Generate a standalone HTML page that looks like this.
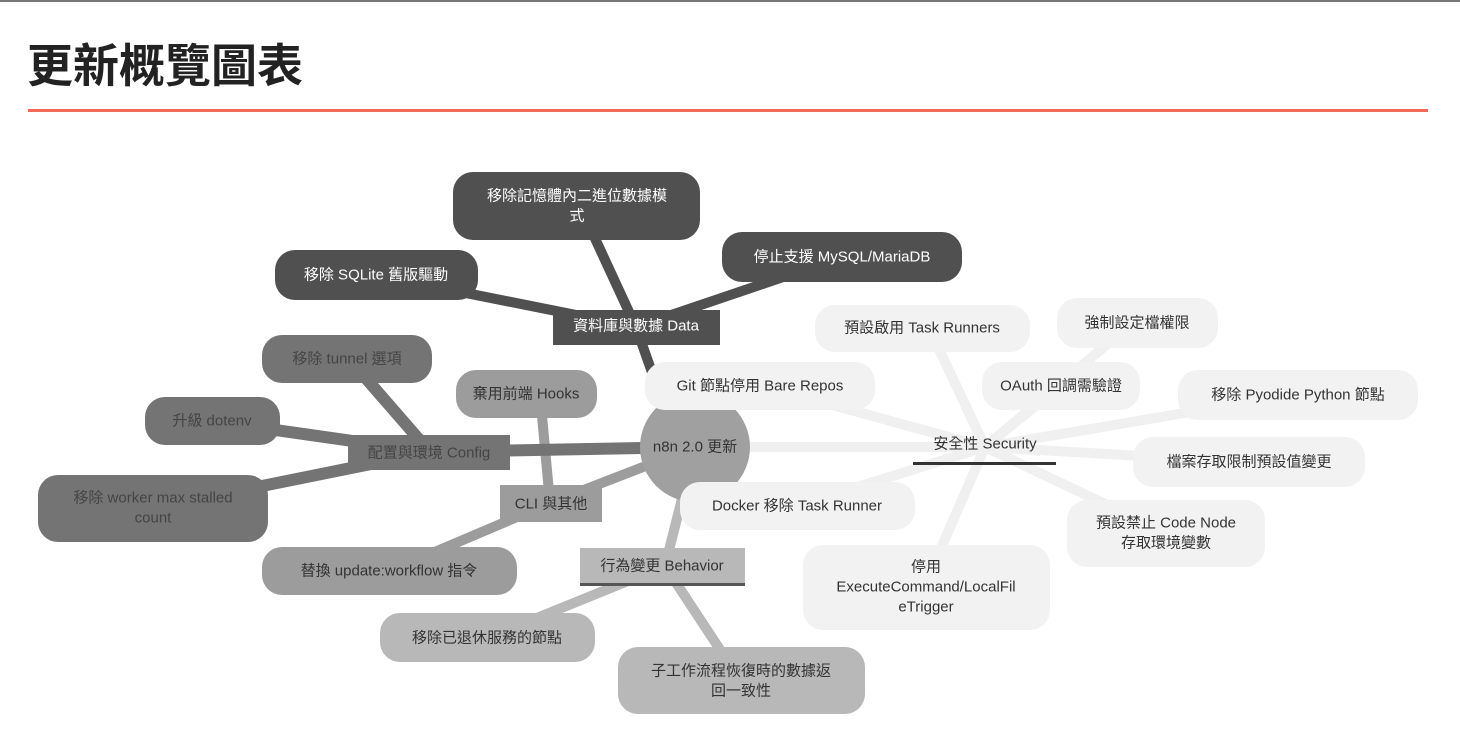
<!DOCTYPE html>
<html><head><meta charset="utf-8"><style>
html,body{margin:0;padding:0;background:#fff;width:1460px;height:752px;overflow:hidden}
svg{display:block}
text{font-family:"Liberation Sans","Noto Sans CJK TC",sans-serif;font-size:15px;text-anchor:middle;dominant-baseline:central}
</style></head><body>
<svg width="1460" height="752" viewBox="0 0 1460 752">
<rect x="0" y="0" width="1460" height="2" fill="#777"/>
<text x="27" y="66" style="font-size:46px;font-weight:bold;text-anchor:start;fill:#222">更新概覽圖表</text>
<rect x="28" y="109" width="1400" height="3" fill="#f06a55"/>

<!-- security lines -->
<g stroke="#f0f0f0" stroke-width="10" stroke-linecap="round">
<line x1="695" y1="447" x2="985" y2="447"/>
<line x1="985" y1="447" x2="760" y2="385"/>
<line x1="985" y1="447" x2="930" y2="330"/>
<line x1="985" y1="447" x2="1130" y2="325"/>
<line x1="985" y1="447" x2="1060" y2="386"/>
<line x1="985" y1="447" x2="1290" y2="395"/>
<line x1="985" y1="447" x2="1245" y2="462"/>
<line x1="985" y1="447" x2="1160" y2="530"/>
<line x1="985" y1="447" x2="925" y2="585"/>
<line x1="985" y1="447" x2="800" y2="505"/>
</g>
<!-- behavior lines -->
<g stroke="#b8b8b8" stroke-width="10" stroke-linecap="round">
<line x1="695" y1="447" x2="665" y2="566"/>
<line x1="665" y1="566" x2="490" y2="637"/>
<line x1="665" y1="566" x2="740" y2="680"/>
</g>
<!-- CLI lines -->
<g stroke="#9c9c9c" stroke-width="10" stroke-linecap="round">
<line x1="695" y1="447" x2="550" y2="503"/>
<line x1="550" y1="503" x2="540" y2="394"/>
<line x1="550" y1="503" x2="390" y2="571"/>
</g>
<!-- Config lines -->
<g stroke="#747474" stroke-width="12" stroke-linecap="round">
<line x1="695" y1="447" x2="430" y2="452"/>
<line x1="430" y1="452" x2="350" y2="360"/>
<line x1="430" y1="452" x2="212" y2="421"/>
<line x1="430" y1="452" x2="153" y2="508"/>
</g>
<!-- Data lines -->
<g stroke="#505050" stroke-width="10" stroke-linecap="round">
<line x1="660" y1="395" x2="636" y2="327"/>
<line x1="636" y1="327" x2="580" y2="206"/>
<line x1="636" y1="327" x2="376" y2="275"/>
<line x1="636" y1="327" x2="842" y2="257"/>
</g>

<!-- center -->
<circle cx="695" cy="447" r="55" fill="#a0a0a0"/>
<text x="695" y="447" fill="#333">n8n 2.0 更新</text>

<!-- Data -->
<rect x="553" y="310" width="167" height="35" fill="#505050"/>
<text x="636" y="326" fill="#fff">資料庫與數據 Data</text>
<rect x="453" y="172" width="247" height="68" rx="20" fill="#505050"/>
<text x="577" y="196" fill="#fff">移除記憶體內二進位數據模</text>
<text x="577" y="216" fill="#fff">式</text>
<rect x="275" y="250" width="203" height="50" rx="20" fill="#505050"/>
<text x="376" y="275" fill="#fff">移除 SQLite 舊版驅動</text>
<rect x="722" y="232" width="240" height="50" rx="20" fill="#505050"/>
<text x="842" y="257" fill="#fff">停止支援 MySQL/MariaDB</text>

<!-- Config -->
<rect x="348" y="435" width="162" height="35" fill="#747474"/>
<text x="429" y="453" fill="#444">配置與環境 Config</text>
<rect x="262" y="335" width="170" height="48" rx="20" fill="#747474"/>
<text x="347" y="359" fill="#444">移除 tunnel 選項</text>
<rect x="145" y="397" width="135" height="48" rx="20" fill="#747474"/>
<text x="212" y="421" fill="#444">升級 dotenv</text>
<rect x="38" y="475" width="230" height="67" rx="20" fill="#747474"/>
<text x="153" y="498" fill="#444">移除 worker max stalled</text>
<text x="153" y="518" fill="#444">count</text>

<!-- CLI -->
<rect x="500" y="485" width="102" height="37" fill="#9c9c9c"/>
<text x="551" y="504" fill="#333">CLI 與其他</text>
<rect x="456" y="370" width="141" height="48" rx="20" fill="#9c9c9c"/>
<text x="526" y="394" fill="#333">棄用前端 Hooks</text>
<rect x="262" y="547" width="255" height="48" rx="20" fill="#9c9c9c"/>
<text x="389" y="571" fill="#333">替換 update:workflow 指令</text>

<!-- Behavior -->
<rect x="580" y="548" width="165" height="37" fill="#b8b8b8"/>
<rect x="580" y="583" width="165" height="3" fill="#555"/>
<text x="662" y="566" fill="#333">行為變更 Behavior</text>
<rect x="380" y="613" width="215" height="49" rx="20" fill="#b8b8b8"/>
<text x="487" y="638" fill="#333">移除已退休服務的節點</text>
<rect x="618" y="647" width="247" height="67" rx="20" fill="#b8b8b8"/>
<text x="741" y="671" fill="#333">子工作流程恢復時的數據返</text>
<text x="741" y="691" fill="#333">回一致性</text>

<!-- Security -->
<text x="985" y="444" fill="#333">安全性 Security</text>
<rect x="913" y="462" width="143" height="3" fill="#333"/>
<g fill="#f2f2f2">
<rect x="645" y="362" width="230" height="48" rx="20"/>
<rect x="680" y="482" width="235" height="48" rx="20"/>
<rect x="815" y="305" width="215" height="47" rx="20"/>
<rect x="1057" y="298" width="161" height="50" rx="20"/>
<rect x="982" y="362" width="158" height="48" rx="20"/>
<rect x="1178" y="370" width="240" height="50" rx="20"/>
<rect x="1133" y="437" width="232" height="50" rx="20"/>
<rect x="1067" y="500" width="198" height="67" rx="20"/>
<rect x="803" y="545" width="247" height="85" rx="20"/>
</g>
<g fill="#333">
<text x="760" y="386">Git 節點停用 Bare Repos</text>
<text x="797" y="506">Docker 移除 Task Runner</text>
<text x="922" y="328">預設啟用 Task Runners</text>
<text x="1137" y="323">強制設定檔權限</text>
<text x="1061" y="386">OAuth 回調需驗證</text>
<text x="1298" y="395">移除 Pyodide Python 節點</text>
<text x="1249" y="462">檔案存取限制預設值變更</text>
<text x="1166" y="523">預設禁止 Code Node</text>
<text x="1166" y="543">存取環境變數</text>
<text x="926" y="567">停用</text>
<text x="926" y="587">ExecuteCommand/LocalFil</text>
<text x="926" y="607">eTrigger</text>
</g>
</svg>
</body></html>
